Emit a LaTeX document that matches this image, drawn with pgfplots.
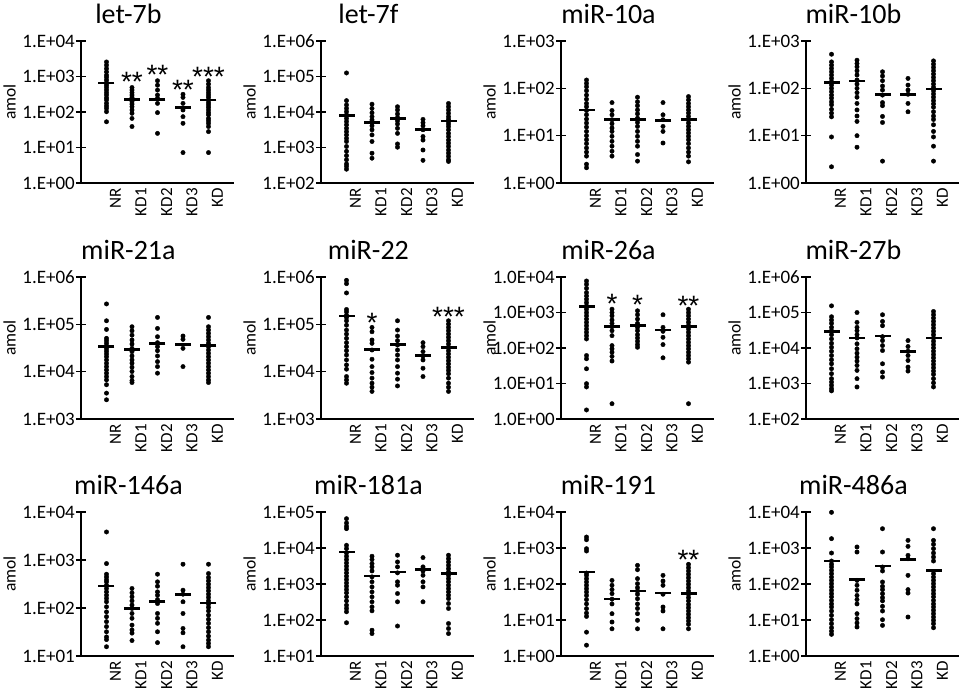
\documentclass[border=0pt]{standalone}
\usepackage{fontspec}
\setmainfont{Carlito}
\newfontfamily\astfont{Liberation Sans}
\usepackage{pgfplots}
\pgfplotsset{compat=1.18}
\newcommand\tk[1]{\mbox{\fontsize{19}{19}\selectfont #1}}
\newcommand\xk[1]{\mbox{\fontsize{17}{17}\selectfont #1}}
\tikzset{mystar/.style={font=\astfont\fontsize{28}{28}\selectfont, anchor=base, yshift=-16pt, inner sep=0pt}}
\pgfplotsset{
  mirpanel/.style={
    scale only axis, width=153pt, anchor=south west,
    xmin=0, xmax=6, clip=false,
    axis lines*=left,
    axis line style={line width=1.4pt, black},
    xtick={1,2,3,4,5}, xticklabels={\xk{NR},\xk{KD1},\xk{KD2},\xk{KD3},\xk{KD}},
    xtick style={draw=none},
    ytick style={line width=1.4pt, black},
    major tick length=10pt, tick align=center,
    yminorticks=false,
    xticklabel style={rotate=90, anchor=east, inner sep=0pt, yshift=-9pt},
    yticklabel style={anchor=east, inner sep=0pt, xshift=-1pt},
    ylabel={\fontsize{17.5}{17.5}\selectfont amol},
    ylabel style={at={(axis description cs:-0.425,0.57)}, anchor=south, inner sep=0pt},
    title style={at={(axis description cs:0.31,1)}, anchor=center, yshift=21pt, inner sep=0pt, font=\fontsize{28}{28}\selectfont},
  },
  dotplot/.style={only marks, mark=*, mark size=2.2pt, black, mark options={draw=black, fill=black}},
  meanplot/.style={only marks, mark=-, mark size=8pt, black, mark options={line width=2.6pt}},
}
\begin{document}
\begin{tikzpicture}
\useasboundingbox (0,0) rectangle (963pt,-697pt);

% ---------- Row 1 ----------
\begin{axis}[mirpanel, ymode=log, ymin=1, ymax=1e4, ytick={1,10,100,1000,10000}, yticklabels={\tk{1.E+00},\tk{1.E+01},\tk{1.E+02},\tk{1.E+03},\tk{1.E+04}}, at={(81pt,-183pt)}, height=142pt, title={let-7b}]
\addplot[dotplot] coordinates {
(1,2570)(1,2080)(1,1670)(1,1350)(1,1090)(1,940)(1,790)(1,660)(1,570)(1,490)(1,415)(1,350)(1,300)(1,250)(1,217)(1,175)(1,147)(1,126)(1,102)(1,53)
(2,490)(2,415)(2,350)(2,300)(2,258)(2,226)(2,195)(2,167)(2,141)(2,114)(2,92)(2,66)(2,39)
(3,760)(3,570)(3,415)(3,300)(3,242)(3,175)(3,96)(3,25)
(4,315)(4,258)(4,175)(4,114)(4,74)(4,48)(4,7.2)
(5,760)(5,610)(5,490)(5,415)(5,350)(5,300)(5,258)(5,217)(5,183)(5,158)(5,135)(5,114)(5,96)(5,83)(5,66)(5,57)(5,48)(5,39)(5,28)(5,7.2)
};
\addplot[meanplot] coordinates {(1,660)(2,226)(3,226)(4,135)(5,217)};
\node[mystar] at (axis cs:2,1100) {**};
\node[mystar] at (axis cs:3,1670) {**};
\node[mystar] at (axis cs:4,630) {**};
\node[mystar] at (axis cs:5,1500) {***};
\end{axis}

\begin{axis}[mirpanel, ymode=log, ymin=100, ymax=1e6, ytick={100,1000,10000,100000,1000000}, yticklabels={\tk{1.E+02},\tk{1.E+03},\tk{1.E+04},\tk{1.E+05},\tk{1.E+06}}, at={(321pt,-183pt)}, height=142pt, title={let-7f}]
\addplot[dotplot] coordinates {
(1,126000)(1,20900)(1,15800)(1,12600)(1,10200)(1,8300)(1,6600)(1,5400)(1,4350)(1,3470)(1,2800)(1,2270)(1,1820)(1,1480)(1,1070)(1,780)(1,590)(1,450)(1,345)(1,295)(1,245)
(2,16600)(2,12600)(2,9500)(2,7400)(2,6000)(2,5000)(2,4100)(2,3160)(2,2270)(2,1480)(2,690)(2,500)
(3,14100)(3,11400)(3,8800)(3,7000)(3,5700)(3,4600)(3,3470)(3,2500)(3,1260)(3,1020)
(4,6200)(4,5000)(4,4100)(4,3160)(4,2040)(4,1620)(4,850)(4,435)
(5,17400)(5,14100)(5,11400)(5,9200)(5,7400)(5,6200)(5,5400)(5,4600)(5,3900)(5,3160)(5,2500)(5,2040)(5,1620)(5,1320)(5,1070)(5,850)(5,690)(5,560)(5,450)(5,405)
};
\addplot[meanplot] coordinates {(1,7900)(2,5000)(3,6500)(4,3240)(5,5600)};
\end{axis}

\begin{axis}[mirpanel, ymode=log, ymin=1, ymax=1000, ytick={1,10,100,1000}, yticklabels={\tk{1.E+00},\tk{1.E+01},\tk{1.E+02},\tk{1.E+03}}, at={(561pt,-183pt)}, height=142pt, title={miR-10a}]
\addplot[dotplot] coordinates {
(1,150)(1,127)(1,108)(1,89)(1,72)(1,59)(1,48)(1,41)(1,34)(1,27.6)(1,22.4)(1,18.5)(1,15.2)(1,12.3)(1,10)(1,8.2)(1,6.8)(1,5.5)(1,4.5)(1,3.7)(1,2.5)(1,2.1)
(2,50)(2,34)(2,27.6)(2,21.7)(2,17.9)(2,14.5)(2,12.3)(2,9.7)(2,7.6)(2,6.0)(2,4.7)(2,3.7)
(3,65)(3,52)(3,43)(3,35)(3,29)(3,23.5)(3,19)(3,15.7)(3,12.3)(3,9.7)(3,7.6)(3,6.0)(3,4.0)(3,2.9)
(4,50)(4,27.6)(4,21.7)(4,15.7)(4,12.3)(4,7.0)
(5,67)(5,57)(5,48)(5,41)(5,35)(5,30)(5,25.5)(5,21.7)(5,18.5)(5,15.7)(5,13.4)(5,11.4)(5,9.7)(5,8.2)(5,6.8)(5,5.5)(5,4.5)(5,3.7)(5,2.8)
};
\addplot[meanplot] coordinates {(1,35)(2,22)(3,22)(4,21)(5,22)};
\end{axis}

\begin{axis}[mirpanel, ymode=log, ymin=1, ymax=1000, ytick={1,10,100,1000}, yticklabels={\tk{1.E+00},\tk{1.E+01},\tk{1.E+02},\tk{1.E+03}}, at={(806pt,-183pt)}, height=142pt, title={miR-10b}]
\addplot[dotplot] coordinates {
(1,525)(1,362)(1,309)(1,263)(1,224)(1,191)(1,162)(1,138)(1,117)(1,100)(1,85)(1,72)(1,62)(1,52)(1,45)(1,36)(1,30)(1,25)(1,9.4)(1,2.2)
(2,393)(2,334)(2,285)(2,235)(2,191)(2,150)(2,123)(2,100)(2,81)(2,65)(2,48)(2,35)(2,26)(2,20)(2,10)(2,5.7)
(3,224)(3,182)(3,145)(3,112)(3,92)(3,72)(3,50)(3,43)(3,25.5)(3,19)(3,2.9)
(4,162)(4,117)(4,92)(4,75)(4,48)(4,32)
(5,380)(5,324)(5,276)(5,235)(5,200)(5,170)(5,145)(5,123)(5,105)(5,89)(5,76)(5,65)(5,55)(5,47)(5,40)(5,32)(5,26)(5,22)(5,17)(5,12.3)(5,9.4)(5,6.0)(5,2.9)
};
\addplot[meanplot] coordinates {(1,131)(2,143)(3,75)(4,75)(5,97)};
\end{axis}

% ---------- Row 2 ----------
\begin{axis}[mirpanel, ymode=log, ymin=1000, ymax=1e6, ytick={1000,10000,100000,1000000}, yticklabels={\tk{1.E+03},\tk{1.E+04},\tk{1.E+05},\tk{1.E+06}}, at={(81pt,-419pt)}, height=142pt, title={miR-21a}]
\addplot[dotplot] coordinates {
(1,270000)(1,119000)(1,78000)(1,50600)(1,45200)(1,39700)(1,34800)(1,30600)(1,26900)(1,23700)(1,20800)(1,17700)(1,15000)(1,12800)(1,10900)(1,9300)(1,7900)(1,6700)(1,5300)(1,3520)(1,2550)
(2,89000)(2,73000)(2,59000)(2,46700)(2,38400)(2,31100)(2,26500)(2,21500)(2,17700)(2,15100)(2,12400)(2,10100)(2,7900)(2,6500)(2,5900)
(3,140000)(3,82000)(3,54800)(3,41000)(3,33800)(3,27800)(3,21500)(3,16300)(3,12800)(3,9300)
(4,56600)(4,48200)(4,31100)(4,12800)
(5,140000)(5,89000)(5,75700)(5,64400)(5,54800)(5,46700)(5,39700)(5,33800)(5,28700)(5,24400)(5,20800)(5,17700)(5,15100)(5,12800)(5,10900)(5,9300)(5,7900)(5,6700)(5,5900)
};
\addplot[meanplot] coordinates {(1,33700)(2,29600)(3,39700)(4,37800)(5,35400)};
\end{axis}

\begin{axis}[mirpanel, ymode=log, ymin=1000, ymax=1e6, ytick={1000,10000,100000,1000000}, yticklabels={\tk{1.E+03},\tk{1.E+04},\tk{1.E+05},\tk{1.E+06}}, at={(321pt,-419pt)}, height=142pt, title={miR-22}]
\addplot[dotplot] coordinates {
(1,851000)(1,724000)(1,461000)(1,206000)(1,184000)(1,156000)(1,140000)(1,119000)(1,96000)(1,75700)(1,62300)(1,50600)(1,41000)(1,33800)(1,27800)(1,22500)(1,17700)(1,13900)(1,11300)(1,7900)(1,6700)(1,5700)
(2,86000)(2,69800)(2,46700)(2,39700)(2,28700)(2,18300)(2,12800)(2,9600)(2,7300)(2,5700)(2,4700)(2,3830)
(3,119000)(3,75700)(3,56600)(3,45200)(3,36600)(3,28700)(3,22500)(3,17700)(3,12800)(3,9300)(3,6950)(3,5000)
(4,41000)(4,33800)(4,26500)(4,21500)(4,17700)(4,11800)(4,7900)
(5,119000)(5,101000)(5,86000)(5,73300)(5,62300)(5,53100)(5,45200)(5,38400)(5,32700)(5,27800)(5,23700)(5,20100)(5,17100)(5,14600)(5,12400)(5,10600)(5,9000)(5,7300)(5,5700)(5,4700)(5,3830)
};
\addplot[meanplot] coordinates {(1,149000)(2,29600)(3,37800)(4,21800)(5,32100)};
\node[mystar] at (axis cs:2,149000) {*};
\node[mystar] at (axis cs:5,200000) {***};
\end{axis}

\begin{axis}[mirpanel, ymode=log, ymin=1, ymax=1e4, ytick={1,10,100,1000,10000}, yticklabels={\tk{1.0E+00},\tk{1.0E+01},\tk{1.0E+02},\tk{1.0E+03},\tk{1.0E+04}}, at={(561pt,-419pt)}, height=142pt, title={miR-26a}]
\addplot[dotplot] coordinates {
(1,7730)(1,6240)(1,4820)(1,3650)(1,2940)(1,2370)(1,1910)(1,1540)(1,1240)(1,1000)(1,810)(1,653)(1,527)(1,425)(1,343)(1,277)(1,223)(1,180)(1,61.5)(1,49.7)(1,26)(1,9.9)(1,8.0)(1,1.8)
(2,1240)(2,1000)(2,810)(2,613)(2,494)(2,399)(2,308)(2,223)(2,117)(2,95)(2,76)(2,58)(2,43)(2,2.7)
(3,1120)(3,865)(3,653)(3,494)(3,382)(3,308)(3,238)(3,192)(3,155)(3,125)(3,105)
(4,865)(4,382)(4,295)(4,200)(4,125)(4,53)
(5,1240)(5,1000)(5,810)(5,653)(5,527)(5,425)(5,343)(5,277)(5,223)(5,180)(5,145)(5,117)(5,95)(5,76)(5,61.5)(5,49.7)(5,40)(5,2.7)
};
\addplot[meanplot] coordinates {(1,1450)(2,400)(3,427)(4,323)(5,400)};
\node[mystar] at (axis cs:2,2630) {*};
\node[mystar] at (axis cs:3,2450) {*};
\node[mystar] at (axis cs:5,2370) {**};
\end{axis}

\begin{axis}[mirpanel, ymode=log, ymin=100, ymax=1e6, ytick={100,1000,10000,100000,1000000}, yticklabels={\tk{1.E+02},\tk{1.E+03},\tk{1.E+04},\tk{1.E+05},\tk{1.E+06}}, at={(806pt,-419pt)}, height=142pt, title={miR-27b}]
\addplot[dotplot] coordinates {
(1,154000)(1,76000)(1,61300)(1,49400)(1,38200)(1,30800)(1,23800)(1,18000)(1,13600)(1,10500)(1,8130)(1,6150)(1,4650)(1,3600)(1,2610)(1,1890)(1,1370)(1,1100)(1,890)(1,720)(1,620)
(2,100000)(2,52700)(2,38200)(2,30800)(2,23800)(2,19200)(2,13100)(2,9500)(2,7150)(2,5530)(2,4280)(2,3230)(2,2340)(2,1370)(2,800)
(3,86500)(3,56200)(3,42600)(3,20900)(3,16200)(3,11700)(3,8500)(3,3600)(3,2100)(3,1520)
(4,16200)(4,11000)(4,8130)(4,6150)(4,4460)(4,2900)(4,2240)
(5,107000)(5,86500)(5,69700)(5,56200)(5,45400)(5,36600)(5,29500)(5,23800)(5,19200)(5,15500)(5,12500)(5,10100)(5,8130)(5,6560)(5,5300)(5,4280)(5,3450)(5,2780)(5,2240)(5,1810)(5,1370)(5,1040)(5,800)
};
\addplot[meanplot] coordinates {(1,29500)(2,19200)(3,21900)(4,8130)(5,19200)};
\end{axis}

% ---------- Row 3 ----------
\begin{axis}[mirpanel, ymode=log, ymin=10, ymax=1e4, ytick={10,100,1000,10000}, yticklabels={\tk{1.E+01},\tk{1.E+02},\tk{1.E+03},\tk{1.E+04}}, at={(81pt,-656pt)}, height=144pt, title={miR-146a}]
\addplot[dotplot] coordinates {
(1,3840)(1,843)(1,506)(1,445)(1,392)(1,351)(1,299)(1,255)(1,217)(1,185)(1,158)(1,135)(1,106)(1,83)(1,66)(1,52)(1,41)(1,32)(1,25)(1,22)(1,15.6)
(2,255)(2,207)(2,171)(2,141)(2,115)(2,98)(2,77)(2,61)(2,44)(2,35)(2,30)(2,21)
(3,506)(3,351)(3,285)(3,217)(3,185)(3,150)(3,124)(3,77)(3,61)(3,48)(3,32)(3,19)
(4,817)(4,235)(4,194)(4,135)(4,77)(4,37.5)(4,30.5)(4,15.6)
(5,817)(5,523)(5,432)(5,368)(5,313)(5,267)(5,228)(5,194)(5,166)(5,141)(5,120)(5,103)(5,87)(5,71)(5,58)(5,48)(5,39)(5,32)(5,26)(5,21.5)(5,18.3)(5,15.6)
};
\addplot[meanplot] coordinates {(1,290)(2,98)(3,135)(4,191)(5,128)};
\end{axis}

\begin{axis}[mirpanel, ymode=log, ymin=10, ymax=1e5, ytick={10,100,1000,10000,100000}, yticklabels={\tk{1.E+01},\tk{1.E+02},\tk{1.E+03},\tk{1.E+04},\tk{1.E+05}}, at={(321pt,-656pt)}, height=144pt, title={miR-181a}]
\addplot[dotplot] coordinates {
(1,65300)(1,49500)(1,40100)(1,34500)(1,11900)(1,9630)(1,7300)(1,5900)(1,4770)(1,3850)(1,3120)(1,2520)(1,2040)(1,1650)(1,1330)(1,1070)(1,870)(1,703)(1,568)(1,440)(1,340)(1,258)(1,209)(1,169)(1,84)
(2,5900)(2,4770)(2,3690)(2,2990)(2,2310)(2,1580)(2,1150)(2,832)(2,605)(2,440)(2,320)(2,232)(2,180)(2,52)(2,42)
(3,6300)(3,4110)(3,2990)(3,2040)(3,1150)(3,927)(3,545)(3,320)(3,68)
(4,5420)(4,2990)(4,2310)(4,1750)(4,1150)(4,832)(4,320)
(5,6300)(5,5080)(5,4110)(5,3320)(5,2680)(5,2170)(5,1750)(5,1420)(5,1150)(5,927)(5,748)(5,605)(5,489)(5,395)(5,287)(5,209)(5,80)(5,58)(5,42)
};
\addplot[meanplot] coordinates {(1,7780)(2,1650)(3,2170)(4,2520)(5,1950)};
\end{axis}

\begin{axis}[mirpanel, ymode=log, ymin=1, ymax=1e4, ytick={1,10,100,1000,10000}, yticklabels={\tk{1.E+00},\tk{1.E+01},\tk{1.E+02},\tk{1.E+03},\tk{1.E+04}}, at={(561pt,-656pt)}, height=144pt, title={miR-191}]
\addplot[dotplot] coordinates {
(1,2020)(1,1700)(1,958)(1,826)(1,202)(1,174)(1,141)(1,114)(1,92)(1,74)(1,60)(1,48)(1,37)(1,28)(1,20.7)(1,15.6)(1,12.6)(1,4.6)(1,2.0)
(2,126)(2,92)(2,70)(2,54)(2,38)(2,28)(2,15)(2,8.8)(2,5.7)
(3,330)(3,250)(3,141)(3,102)(3,79)(3,64)(3,52)(3,39)(3,28)(3,21)(3,15)(3,9.8)(3,5.7)
(4,174)(4,121)(4,92)(4,52)(4,23)(4,17.8)(4,5.7)
(5,352)(5,284)(5,230)(5,186)(5,150)(5,121)(5,98)(5,79)(5,64)(5,52)(5,42)(5,34)(5,27)(5,22)(5,17.8)(5,14.4)(5,11.6)(5,9.4)(5,7.6)(5,5.7)
};
\addplot[meanplot] coordinates {(1,215)(2,38)(3,64)(4,56)(5,54)};
\node[mystar] at (axis cs:5,725) {**};
\end{axis}

\begin{axis}[mirpanel, ymode=log, ymin=1, ymax=1e4, ytick={1,10,100,1000,10000}, yticklabels={\tk{1.E+00},\tk{1.E+01},\tk{1.E+02},\tk{1.E+03},\tk{1.E+04}}, at={(806pt,-656pt)}, height=144pt, title={miR-486a}]
\addplot[dotplot] coordinates {
(1,9800)(1,1820)(1,726)(1,435)(1,352)(1,297)(1,240)(1,194)(1,156)(1,126)(1,102)(1,83)(1,67)(1,54)(1,44)(1,35)(1,28)(1,23)(1,17.8)(1,13.5)(1,10.2)(1,7.9)(1,6.1)(1,4.9)(1,4.0)
(2,1070)(2,774)(2,126)(2,92)(2,67)(2,48)(2,37)(2,28)(2,15)(2,10.9)(2,8.3)(2,6.4)
(3,3440)(3,774)(3,297)(3,230)(3,114)(3,86)(3,70)(3,54)(3,42)(3,34)(3,24)(3,17.8)(3,10.2)(3,7.1)
(4,1630)(4,1110)(4,625)(4,505)(4,174)(4,70)(4,56)(4,12.1)
(5,3440)(5,1630)(5,1270)(5,960)(5,726)(5,562)(5,435)(5,194)(5,156)(5,126)(5,102)(5,83)(5,67)(5,54)(5,44)(5,35)(5,28)(5,23)(5,18.6)(5,15)(5,12.1)(5,9.8)(5,7.9)(5,6.1)
};
\addplot[meanplot] coordinates {(1,435)(2,132)(3,316)(4,475)(5,240)};
\end{axis}
\end{tikzpicture}
\end{document}
